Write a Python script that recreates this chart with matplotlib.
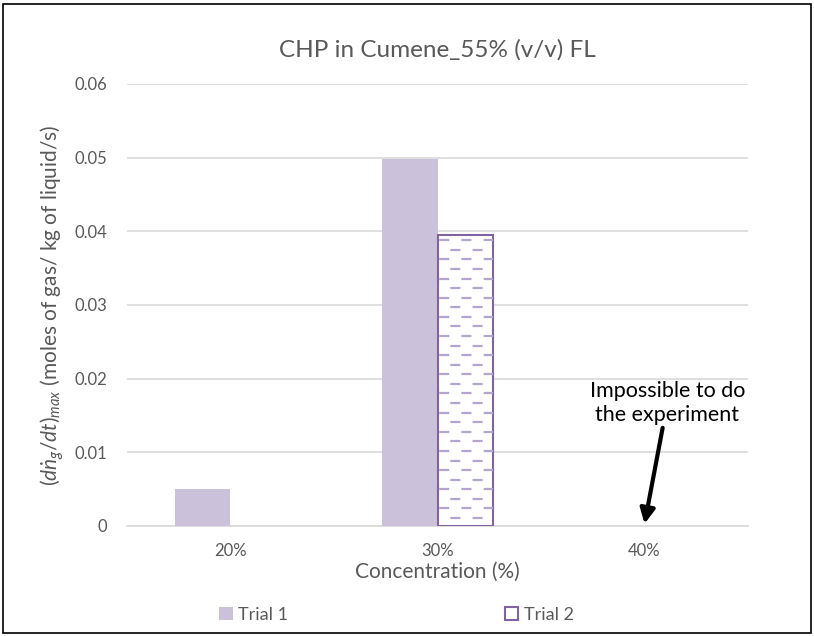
import numpy as np
import matplotlib
matplotlib.use('Agg')
import matplotlib.pyplot as plt
from matplotlib.patches import Rectangle

plt.rcParams['font.family'] = ['Lato', 'DejaVu Sans']
plt.rcParams['mathtext.fontset'] = 'custom'
plt.rcParams['mathtext.rm'] = 'Lato'
plt.rcParams['mathtext.it'] = 'Lato:italic'

# data
categories = ['20%', '30%', '40%']
trial1 = [0.0050, 0.0498, 0.0]
trial2 = [0.0, 0.0395, 0.0]
yticks = [0, 0.01, 0.02, 0.03, 0.04, 0.05, 0.06]
ytick_labels = ['0', '0.01', '0.02', '0.03', '0.04', '0.05', '0.06']

c1 = '#CCC1DA'
c2_edge = '#8064A2'
c2_hatch = '#B4A5D0'
grey = '#595959'
grid = '#D9D9D9'

fig = plt.figure(figsize=(8.14, 6.36), dpi=100)
ax = fig.add_axes([0.156, 0.173, 0.763, 0.695])

x = np.arange(len(categories))
w = 0.266

ax.bar(x - w/2, trial1, w, color=c1, edgecolor='none', zorder=3, label='Trial 1')
bars2 = ax.bar(x + w/2, trial2, w, color='white', edgecolor=c2_edge, linewidth=1.5, zorder=4)

ax.set_xlim(-0.5, 2.5)
ax.set_ylim(0, 0.06)

# dashed hatching inside trial 2 bars (staggered rows)
step = 0.0013
for b in bars2:
    h = b.get_height()
    if h <= 0:
        b.set_visible(False)
        continue
    x0 = b.get_x()
    xs = [x0 - 0.1, x0 + b.get_width() + 0.1]
    for i, yy in enumerate(np.arange(h - step * 0.55, 0, -step)):
        ln, = ax.plot(xs, [yy, yy], color=c2_hatch, lw=1.6, zorder=4,
                      dash_capstyle='butt')
        ln.set_linestyle((0 if i % 2 == 0 else 5, (4.5, 5.5)))
        ln.set_clip_path(b)

ax.set_yticks(yticks)
ax.set_yticklabels(ytick_labels)
ax.set_xticks(x)
ax.set_xticklabels(categories)
ax.tick_params(axis='both', length=0, colors=grey, labelsize=12)
ax.tick_params(axis='y', pad=14)
ax.tick_params(axis='x', pad=12)
ax.yaxis.grid(True, color=grid, linewidth=1.2, zorder=0)
ax.set_axisbelow(True)
for s in ['top', 'right', 'left']:
    ax.spines[s].set_visible(False)
ax.spines['bottom'].set_color(grid)
ax.spines['bottom'].set_linewidth(1.2)

ax.set_title('CHP in Cumene_55% (v/v) FL', fontsize=17.5, color=grey, pad=20)
ax.set_xlabel('Concentration (%)', fontsize=15, color=grey, labelpad=2)
ax.set_ylabel('$(d\u1e45_g/dt)_{max}$ (moles of gas/ kg of liquid/s)',
              fontsize=15, color=grey, labelpad=6)

ax.annotate('Impossible to do\nthe experiment', xy=(2, 0.0003), xytext=(2.11, 0.0137),
            ha='center', va='bottom', fontsize=15.5, color='black', linespacing=1.25,
            arrowprops=dict(arrowstyle='-|>', color='black', lw=3, mutation_scale=22,
                            shrinkA=0, shrinkB=0))

h1 = Rectangle((0, 0), 1, 1, facecolor=c1, edgecolor='none')
h2 = Rectangle((0, 0), 1, 1, facecolor='white', edgecolor=c2_edge, linewidth=1.5)
fig.legend([h1, h2], ['Trial 1', 'Trial 2'], loc='center', bbox_to_anchor=(0.487, 0.033),
           ncol=2, frameon=False, fontsize=13, labelcolor=grey, columnspacing=12,
           handlelength=0.75, handleheight=0.75, handletextpad=0.3)

fig.patches.append(Rectangle((0.004, 0.004), 0.992, 0.99, transform=fig.transFigure,
                             fill=False, edgecolor='black', linewidth=1.2))

fig.savefig('out.png', dpi=100)
